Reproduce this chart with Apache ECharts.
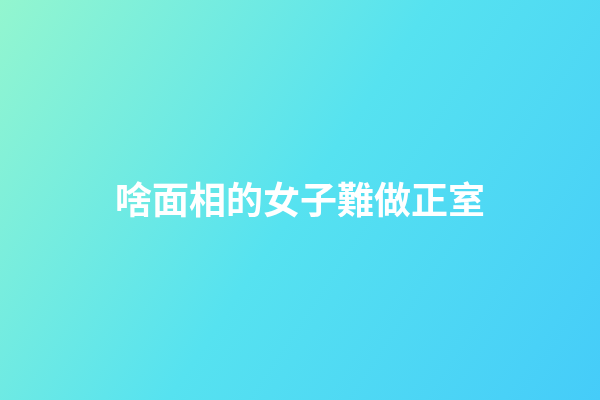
<!DOCTYPE html>
<html>
<head>
<meta charset="utf-8">
<script src="https://cdn.jsdelivr.net/npm/echarts@6/dist/echarts.min.js"></script>
<style>html,body{margin:0;padding:0;}#c{width:600px;height:400px;}</style>
</head>
<body>
<div id="c"></div>
<script>
var titleText = '啥面相的女子難做正室';
var gradientStops = ['#93f6cf', '#56e2f0', '#45ccf9'];

var chart = echarts.init(document.getElementById('c'));
chart.setOption({
  animation: false,
  graphic: [
    {
      type: 'rect',
      left: 0, top: 0, z: -10,
      shape: { width: 600, height: 400 },
      style: {
        fill: new echarts.graphic.LinearGradient(0, 0, 1, 1, [
          { offset: 0, color: gradientStops[0] },
          { offset: 0.5, color: gradientStops[1] },
          { offset: 1, color: gradientStops[2] }
        ])
      }
    },
    {
      type: 'text',
      left: 'center', top: 'middle',
      style: {
        text: titleText,
        fill: '#ffffff',
        font: 'bold 37px "Noto Sans CJK TC"'
      }
    }
  ]
});
</script>
</body>
</html>
